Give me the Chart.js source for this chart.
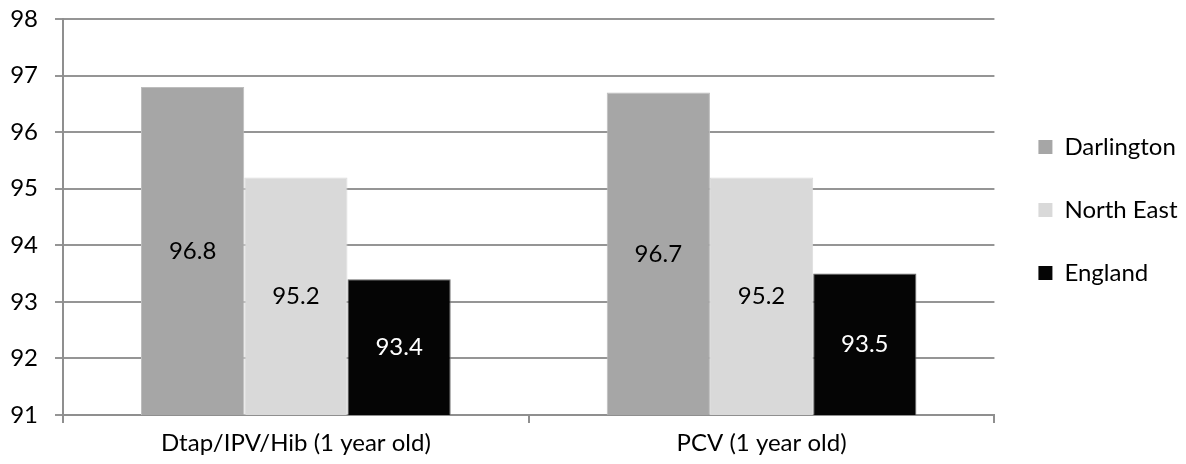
<!DOCTYPE html>
<html>
<head>
<meta charset="utf-8">
<script src="https://cdn.jsdelivr.net/npm/chart.js@4.4.1/dist/chart.umd.min.js"></script>
<style>
  html, body { margin: 0; padding: 0; background: #ffffff; }
  #wrap { width: 1186px; height: 464px; position: relative; }
</style>
</head>
<body>
<div id="wrap"><canvas id="c" width="1186" height="464"></canvas></div>
<script>
const categories = ['Dtap/IPV/Hib (1 year old)', 'PCV (1 year old)'];
const seriesNames = ['Darlington', 'North East', 'England'];
const darlington = [96.8, 96.7];
const northEast = [95.2, 95.2];
const england = [93.4, 93.5];
const yMin = 91;
const yMax = 98;
const yStep = 1;

const FONT = 'Lato, "Open Sans", sans-serif';
const FS = 24;
const labelColors = ['#000000', '#000000', '#ffffff'];

const barLabels = {
  id: 'barLabels',
  afterDatasetsDraw(chart) {
    const ctx = chart.ctx;
    const yScale = chart.scales.y;
    const floor = yScale.getPixelForValue(yScale.min);
    ctx.save();
    ctx.font = FS + 'px ' + FONT;
    ctx.textAlign = 'center';
    ctx.textBaseline = 'middle';
    chart.data.datasets.forEach((ds, di) => {
      const meta = chart.getDatasetMeta(di);
      meta.data.forEach((el, i) => {
        const v = Number(ds.data[i]);
        const base = Math.min(el.base, floor);
        const cy = (el.y + base) / 2;
        ctx.fillStyle = labelColors[di];
        ctx.fillText(v.toFixed(1), el.x, cy);
      });
    });
    ctx.restore();
  }
};

const legendShift = {
  id: 'legendShift',
  afterLayout(chart) {
    const lg = chart.legend;
    if (!lg) return;
    const dx = 5, dy = -7;
    lg.left += dx; lg.right += dx;
    lg.top += dy; lg.bottom += dy;
  }
};

new Chart(document.getElementById('c'), {
  type: 'bar',
  data: {
    labels: categories,
    datasets: [
      { label: seriesNames[0], data: darlington, backgroundColor: '#a6a6a6', borderColor: '#bdbdbd' },
      { label: seriesNames[1], data: northEast, backgroundColor: '#d9d9d9', borderColor: '#dcdcdc' },
      { label: seriesNames[2], data: england, backgroundColor: '#050505', borderColor: '#6a6a6a' }
    ]
  },
  options: {
    responsive: false,
    animation: false,
    devicePixelRatio: 1,
    datasets: {
      bar: { categoryPercentage: 0.665, barPercentage: 1.0, borderWidth: 1 }
    },
    layout: { padding: { left: 11, right: 3.5, top: 19, bottom: 0 } },
    plugins: {
      tooltip: { enabled: false },
      legend: {
        position: 'right',
        fullSize: false,
        align: 'center',
        labels: {
          boxWidth: 14,
          boxHeight: 14,
          padding: 39,
          color: '#000000',
          font: { family: FONT, size: FS },
          generateLabels(chart) {
            return chart.data.datasets.map((ds, i) => ({
              text: ds.label,
              fillStyle: ds.backgroundColor,
              strokeStyle: ds.backgroundColor,
              lineWidth: 0,
              hidden: false,
              datasetIndex: i,
              fontColor: '#000000'
            }));
          }
        }
      }
    },
    scales: {
      x: {
        afterFit(scale) { scale.height = 49; scale.paddingLeft = 0; scale.paddingRight = 0; },
        grid: { display: true, drawOnChartArea: false, drawTicks: true, tickLength: 8, color: '#8f8f8f', lineWidth: 2, offset: true },
        border: { display: true, color: '#8f8f8f', width: 2 },
        ticks: { color: '#000000', font: { family: FONT, size: FS }, padding: 6, maxRotation: 0 }
      },
      y: {
        min: yMin,
        max: yMax,
        afterFit(scale) { scale.width = 52; scale.paddingTop = 0; scale.paddingBottom = 0; },
        grid: { color: '#959595', lineWidth: 2, tickLength: 8, drawTicks: true },
        border: { display: true, color: '#8f8f8f', width: 2 },
        ticks: { stepSize: yStep, color: '#000000', font: { family: FONT, size: FS }, padding: 17 }
      }
    }
  },
  plugins: [barLabels, legendShift]
});
</script>
</body>
</html>
